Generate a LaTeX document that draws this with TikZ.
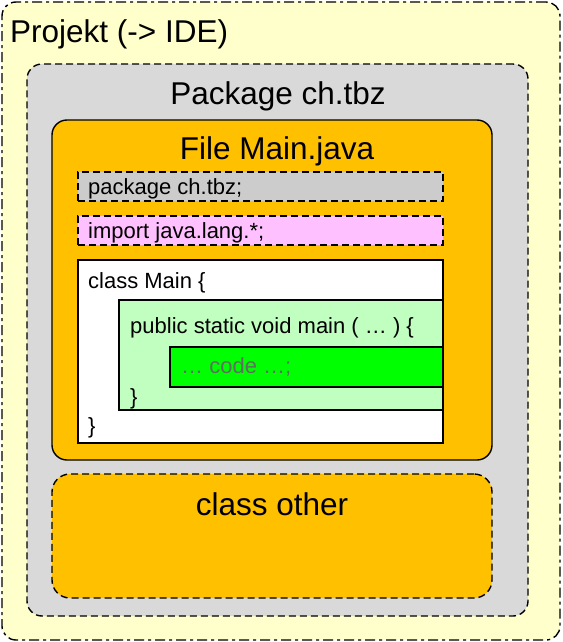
\documentclass[tikz,border=0pt]{standalone}
\usepackage{fontspec}
\setmainfont{Liberation Sans}
\definecolor{projyellow}{HTML}{FFFFCC}
\definecolor{pkggray}{HTML}{D9D9D9}
\definecolor{fileorange}{HTML}{FFC000}
\definecolor{linegray}{HTML}{CCCCCC}
\definecolor{importpink}{HTML}{FFC0FF}
\definecolor{lightgreen}{HTML}{C0FFC0}
\definecolor{brightgreen}{HTML}{00FF00}
\definecolor{codegray}{HTML}{5F6F5F}
\begin{document}
\begin{tikzpicture}[x=1pt,y=-1pt,
  box/.style={draw=black,line width=1.4pt,inner sep=0pt,minimum width=#1},
  dashbox/.style={dash pattern=on 7pt off 4pt},
  dashdotbox/.style={dash pattern=on 10pt off 4pt on 3pt off 4pt},
  bigtext/.style={font=\fontsize{31.5}{37}\selectfont,inner sep=0pt},
  smalltext/.style={font=\fontsize{22}{26}\selectfont,inner sep=0pt}]
\useasboundingbox (0,0) rectangle (562,642);
% containers
\node[box=558pt,minimum height=638pt,fill=projyellow,dashdotbox,rounded corners=14pt] (proj) at (281,321) {};
\node[box=501pt,minimum height=552pt,fill=pkggray,dashbox,rounded corners=15pt] (pkg) at (277.5,340) {};
\node[box=440pt,minimum height=340pt,fill=fileorange,rounded corners=15pt] (file) at (272,290) {};
\node[box=365pt,minimum height=29pt,fill=linegray,dashbox] (pkgline) at (260.5,186.5) {};
\node[box=365pt,minimum height=29pt,fill=importpink,dashbox] (importline) at (260.5,230.5) {};
\node[box=365pt,minimum height=183pt,fill=white] (classmain) at (260.5,351.5) {};
\node[box=324pt,minimum height=110pt,fill=lightgreen] (mainmethod) at (281,355) {};
\node[box=273pt,minimum height=40pt,fill=brightgreen] (code) at (306.5,367) {};
\node[box=440pt,minimum height=124pt,fill=fileorange,dashbox,rounded corners=18pt] (other) at (272,536) {};
% texts
\node[bigtext,anchor=base west] (tproj) at (10,42) {Projekt (-> IDE)};
\node[bigtext,anchor=base] (tpkg) at (278,104) {Package ch.tbz};
\node[bigtext,anchor=base] (tfile) at (277,159) {File Main.java};
\node[smalltext,anchor=base west] (tpkgline) at (88,194) {package ch.tbz;};
\node[smalltext,anchor=base west] (timport) at (88,238) {import java.lang.*;};
\node[smalltext,anchor=base west] (tclass) at (88,288) {class Main \{};
\node[smalltext,anchor=base west] (tmain) at (130,333) {public static void main ( … ) \{};
\node[smalltext,anchor=base west,text=codegray] (tcode) at (181,373) {… code …;};
\node[smalltext,anchor=base west] (tmainend) at (130,404) {\}};
\node[smalltext,anchor=base west] (tclassend) at (88,433) {\}};
\node[bigtext,anchor=base] (tother) at (272,515) {class other};
\end{tikzpicture}
\end{document}
